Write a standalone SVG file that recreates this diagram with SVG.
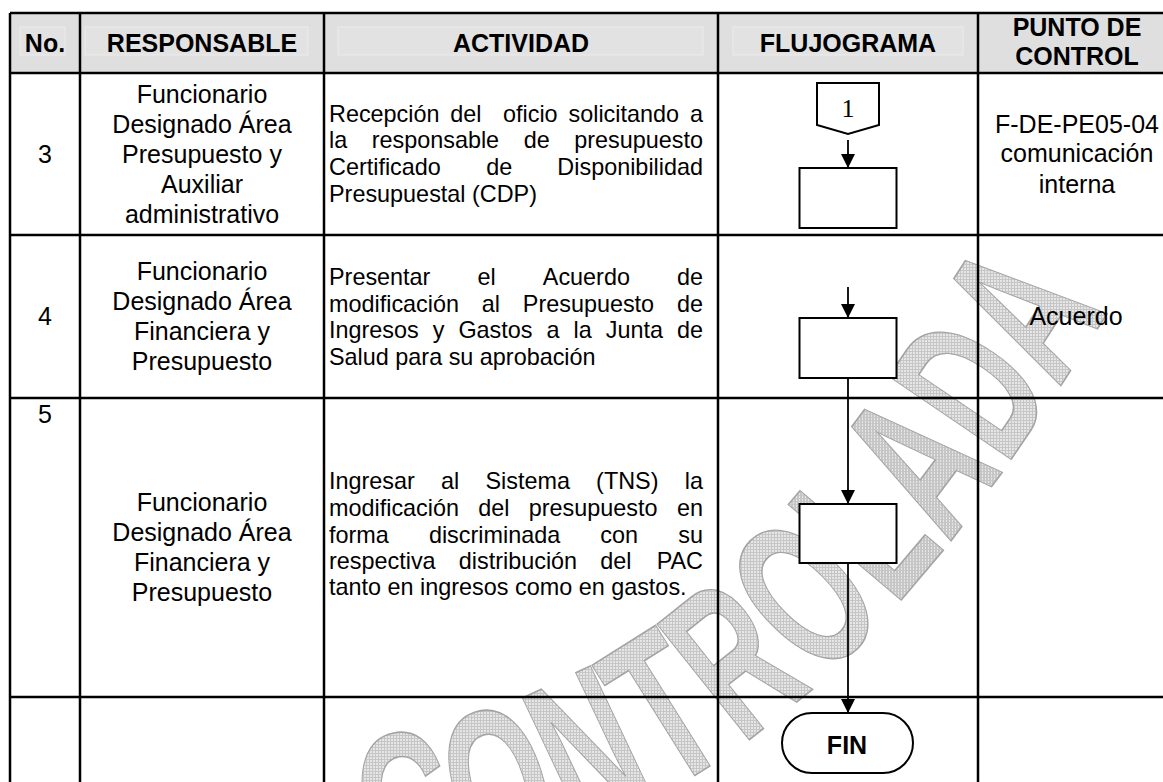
<svg xmlns="http://www.w3.org/2000/svg" width="1163" height="782" viewBox="0 0 1163 782">
<defs>
<style>
.hdr{font-family:"Liberation Sans",Arial,sans-serif;font-weight:bold;font-size:25px;fill:#000;text-anchor:middle}
.resp{font-family:"Liberation Sans",Arial,sans-serif;font-size:25px;fill:#000;text-anchor:middle}
.act{font-family:"Liberation Sans",Arial,sans-serif;font-size:23.4px;fill:#000}
.grid{stroke:#000;stroke-width:2.5;fill:none}
.box{fill:#fff;stroke:#000;stroke-width:2}
.conn{stroke:#000;stroke-width:1.8;fill:none;marker-end:url(#arrow)}
.wm{font-family:"Liberation Sans",Arial,sans-serif;font-weight:bold;font-size:215px;fill:url(#hatch);stroke:#a4a4a4;stroke-width:1.6}
.shade{fill:#e2e2e2;stroke:#ececec;stroke-width:1}
</style>
<pattern id="hatch" width="3" height="3" patternUnits="userSpaceOnUse">
<rect width="3" height="3" fill="#e6e6e6"/>
<path d="M0,0.5H3M0.5,0V3" stroke="#c6c6c6" stroke-width="1"/>
</pattern>
<marker id="arrow" markerWidth="14" markerHeight="14" refX="14" refY="7" orient="auto" markerUnits="userSpaceOnUse">
<path d="M0,0 L14,7 L0,14 z" fill="#000"/>
</marker>
<path id="wmPath" d="M 360,815 C 740,760 900,500 1070,232" fill="none"/>
</defs>
<rect width="1163" height="782" fill="#fff"/>
<g id="header-background">
<rect x="10" y="13" width="1160" height="60" fill="#dfdfdf"/>
<rect class="shade" x="20" y="27" width="45" height="28"/>
<rect class="shade" x="85" y="27" width="223" height="28"/>
<rect class="shade" x="338" y="27" width="365" height="28"/>
<rect class="shade" x="733" y="27" width="230" height="28"/>
</g>
<g id="watermark">
<text class="wm" dominant-baseline="central"><textPath href="#wmPath" textLength="910" lengthAdjust="spacingAndGlyphs">CONTROLADA</textPath></text>
</g>
<g id="table-grid">
<path class="grid" d="M10,13 H1170 M10,73 H1170 M10,235 H1170 M10,398 H1170 M10,697 H1170"/>
<path class="grid" d="M10,13 V790 M80,13 V790 M324,13 V790 M718,13 V790 M978,13 V790"/>
</g>
<g id="header">
<text class="hdr" x="45" y="52">No.</text>
<text class="hdr" x="202" y="52">RESPONSABLE</text>
<text class="hdr" x="521" y="52">ACTIVIDAD</text>
<text class="hdr" x="848" y="52">FLUJOGRAMA</text>
<text class="hdr" x="1077" y="36">PUNTO DE</text>
<text class="hdr" x="1077" y="65">CONTROL</text>
</g>
<g id="row-3">
<text class="resp" x="45" y="163">3</text>
<text class="resp" x="202" y="103">Funcionario</text>
<text class="resp" x="202" y="133">Designado Área</text>
<text class="resp" x="202" y="163">Presupuesto y</text>
<text class="resp" x="202" y="193">Auxiliar</text>
<text class="resp" x="202" y="223">administrativo</text>
<text class="act" y="122"><tspan x="329">Recepción</tspan><tspan x="450.3">del</tspan><tspan x="503">oficio</tspan><tspan x="568.5">solicitando</tspan><tspan x="703" text-anchor="end">a</tspan></text>
<text class="act" y="148"><tspan x="329">la</tspan><tspan x="371.7">responsable</tspan><tspan x="523.7">de</tspan><tspan x="703" text-anchor="end">presupuesto</tspan></text>
<text class="act" y="175"><tspan x="329">Certificado</tspan><tspan x="486.3">de</tspan><tspan x="703" text-anchor="end">Disponibilidad</tspan></text>
<text class="act" x="329" y="202">Presupuestal (CDP)</text>
<text class="resp" x="1077" y="133">F-DE-PE05-04</text>
<text class="resp" x="1077" y="162">comunicación</text>
<text class="resp" x="1077" y="193">interna</text>
</g>
<g id="row-4">
<text class="resp" x="45" y="325">4</text>
<text class="resp" x="202" y="280">Funcionario</text>
<text class="resp" x="202" y="310">Designado Área</text>
<text class="resp" x="202" y="340">Financiera y</text>
<text class="resp" x="202" y="370">Presupuesto</text>
<text class="act" y="285"><tspan x="329">Presentar</tspan><tspan x="477.5">el</tspan><tspan x="542.8">Acuerdo</tspan><tspan x="703" text-anchor="end">de</tspan></text>
<text class="act" y="312"><tspan x="329">modificación</tspan><tspan x="481.8">al</tspan><tspan x="522.8">Presupuesto</tspan><tspan x="703" text-anchor="end">de</tspan></text>
<text class="act" y="338"><tspan x="329">Ingresos</tspan><tspan x="432.7">y</tspan><tspan x="458.4">Gastos</tspan><tspan x="546.5">a</tspan><tspan x="573.5">la</tspan><tspan x="605.7">Junta</tspan><tspan x="703" text-anchor="end">de</tspan></text>
<text class="act" x="329" y="365">Salud para su aprobación</text>
<text class="resp" x="1076" y="325">Acuerdo</text>
</g>
<g id="row-5">
<text class="resp" x="45" y="423">5</text>
<text class="resp" x="202" y="511">Funcionario</text>
<text class="resp" x="202" y="541">Designado Área</text>
<text class="resp" x="202" y="571">Financiera y</text>
<text class="resp" x="202" y="601">Presupuesto</text>
<text class="act" y="489"><tspan x="329">Ingresar</tspan><tspan x="441">al</tspan><tspan x="485.4">Sistema</tspan><tspan x="596.1">(TNS)</tspan><tspan x="703" text-anchor="end">la</tspan></text>
<text class="act" y="516"><tspan x="329">modificación</tspan><tspan x="478.3">del</tspan><tspan x="528.8">presupuesto</tspan><tspan x="703" text-anchor="end">en</tspan></text>
<text class="act" y="543"><tspan x="329">forma</tspan><tspan x="428.9">discriminada</tspan><tspan x="600.3">con</tspan><tspan x="703" text-anchor="end">su</tspan></text>
<text class="act" y="569"><tspan x="329">respectiva</tspan><tspan x="458.8">distribución</tspan><tspan x="600.3">del</tspan><tspan x="703" text-anchor="end">PAC</tspan></text>
<text class="act" x="329" y="595">tanto en ingresos como en gastos.</text>
</g>
<g id="connectors">
<line class="conn" x1="848" y1="140" x2="848" y2="168"/>
<line class="conn" x1="848" y1="287" x2="848" y2="318"/>
<line class="conn" x1="848" y1="378" x2="848" y2="504"/>
<line class="conn" x1="848" y1="563" x2="848" y2="713"/>
</g>
<g id="node-connector-1">
<polygon class="box" points="817,83 879,83 879,125 848,134 817,125"/>
<text x="848" y="117" style="font-family:'Liberation Serif','Times New Roman',serif;font-size:26px;text-anchor:middle">1</text>
</g>
<g id="node-step-3"><rect class="box" x="799.5" y="168" width="97" height="60"/></g>
<g id="node-step-4"><rect class="box" x="799.5" y="318" width="97" height="60"/></g>
<g id="node-step-5"><rect class="box" x="799.5" y="504" width="97" height="59"/></g>
<g id="node-fin">
<rect class="box" x="782" y="713" width="131" height="60" rx="30" ry="30"/>
<text class="hdr" x="847" y="754">FIN</text>
</g>
</svg>
